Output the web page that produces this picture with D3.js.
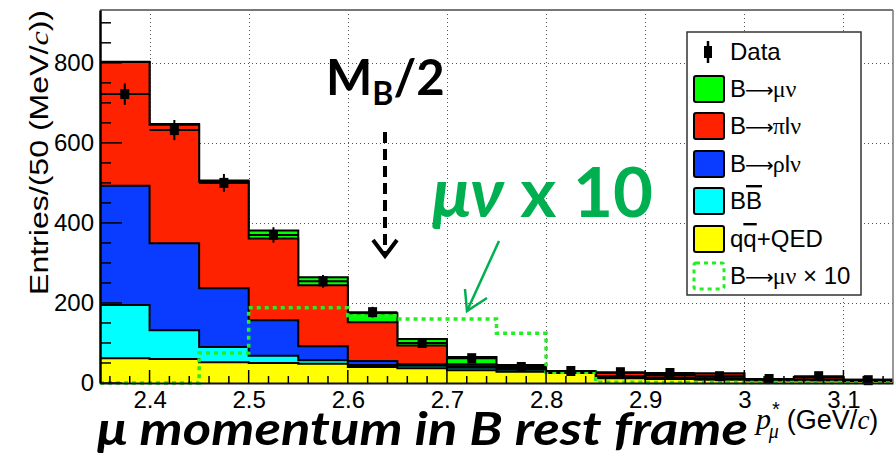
<!DOCTYPE html>
<html>
<head>
<meta charset="utf-8">
<script src="https://cdn.jsdelivr.net/npm/d3@7"></script>
<style>
body { margin: 0; background: #fff; }
svg { display: block; }
</style>
</head>
<body>
<div id="viz"></div>
<script>
// p*_mu histogram, 50 MeV bins, stacked MC + data + signal x 10

var binLow = [2.35, 2.40, 2.45, 2.50, 2.55, 2.60, 2.65, 2.70, 2.75, 2.80, 2.85, 2.90, 2.95, 3.00, 3.05, 3.10];
var binWidth = 0.05;

// stack components, bottom first
var qqQED = [62, 60, 52, 50, 48, 40, 37, 32, 28, 25, 12, 10, 8, 6, 6, 5];
var BBbar = [133, 72, 38, 18, 9, 5, 6, 6, 5, 2, 3, 2, 2, 2, 2, 1];
var rhoLnu = [298, 217, 147, 89, 35, 10, 4, 4, 3, 1, 2, 2, 2, 1, 1, 1];
var piLnu = [309, 296, 266, 204, 152, 97, 47, 5, 2, 1, 8, 6, 12, 1, 6, 1];
var muNu = [1, 2, 3, 20, 20, 22, 16, 18, 7, 1, 0, 0, 0, 0, 0, 0];

var muNuX10 = [0, 0, 75, 188, 188, 168, 160, 160, 124, 27, 2, 1, 1, 1, 1, 1];
var dataCounts = [722, 632, 500, 370, 254, 177, 100, 62, 40, 30, 27, 25, 17, 10, 17, 7];

var xTicks = [2.4, 2.5, 2.6, 2.7, 2.8, 2.9, 3.0, 3.1];
var xTickLabels = ["2.4", "2.5", "2.6", "2.7", "2.8", "2.9", "3", "3.1"];
var yTicks = [0, 200, 400, 600, 800];

var layers = [
    {name: "qq", values: qqQED, color: "#ffff00"},
    {name: "BB", values: BBbar, color: "#00ffff"},
    {name: "rho", values: rhoLnu, color: "#0a3cff"},
    {name: "pi", values: piLnu, color: "#ff2200"},
    {name: "munu", values: muNu, color: "#00ff00"}
];

var W = 896, H = 456;
var frame = {left: 100, right: 893, top: 10, bottom: 383};

var x = d3.scaleLinear().domain([2.35, 3.15]).range([frame.left, frame.right]);
var y = d3.scaleLinear().domain([0, 932]).range([frame.bottom, frame.top]);

var rootFont = "'Liberation Sans', Arial, Helvetica, sans-serif";
var greekFont = "'Liberation Serif', 'Times New Roman', serif";
var noteFont = "Lato, 'Open Sans', sans-serif";

function stepPoints(vals) {
    var pts = vals.map(function(v, i) { return {x: binLow[i], v: v}; });
    pts.push({x: binLow[vals.length - 1] + binWidth, v: vals[vals.length - 1]});
    return pts;
}

// long thin arrow like ROOT's #rightarrow
function arrow() {
    return "<tspan font-family=\"'DejaVu Sans'\" font-size=\"20\" dx=\"-1\">⟶</tspan>";
}
function greek(s, dx) {
    return "<tspan font-family=\"" + greekFont + "\"" + (dx ? " dx=\"" + dx + "\"" : "") + ">" + s + "</tspan>";
}

function main() {
    var svg = d3.select("#viz").append("svg").attr("width", W).attr("height", H);

    // grid
    var grid = svg.append("g").attr("id", "grid")
        .attr("stroke", "#555").attr("stroke-width", 1).attr("stroke-dasharray", "1,3");
    grid.selectAll("line.gx").data(xTicks).enter().append("line")
        .attr("x1", function(d) { return Math.round(x(d)) + 0.5; })
        .attr("x2", function(d) { return Math.round(x(d)) + 0.5; })
        .attr("y1", frame.top).attr("y2", frame.bottom);
    grid.selectAll("line.gy").data(yTicks.slice(1)).enter().append("line")
        .attr("y1", function(d) { return Math.round(y(d)) + 0.5; })
        .attr("y2", function(d) { return Math.round(y(d)) + 0.5; })
        .attr("x1", frame.left).attr("x2", frame.right);

    // cumulative stack, drawn largest first like THStack
    var cum = binLow.map(function() { return 0; });
    layers.forEach(function(l) {
        cum = cum.map(function(c, i) { return c + l.values[i]; });
        l.cum = cum.slice();
    });

    var area = d3.area().curve(d3.curveStepAfter)
        .x(function(d) { return x(d.x); })
        .y0(y(0))
        .y1(function(d) { return y(d.v); });
    var line = d3.line().curve(d3.curveStepAfter)
        .x(function(d) { return x(d.x); })
        .y(function(d) { return y(d.v); });

    var hists = svg.append("g").attr("id", "stack");
    layers.slice().reverse().forEach(function(l) {
        var pts = stepPoints(l.cum);
        hists.append("path").attr("d", area(pts)).attr("fill", l.color);
        hists.append("path").attr("d", line(pts))
            .attr("fill", "none").attr("stroke", "#000").attr("stroke-width", 2);
    });

    // signal x 10
    svg.append("path").attr("d", line(stepPoints(muNuX10)))
        .attr("fill", "none").attr("stroke", "#22ee22")
        .attr("stroke-width", 3.5).attr("stroke-dasharray", "4,4");

    // data points
    var pts = svg.append("g").attr("id", "data");
    dataCounts.forEach(function(n, i) {
        var cx = x(binLow[i] + binWidth / 2), cy = y(n), e = Math.sqrt(n);
        pts.append("line").attr("x1", x(binLow[i])).attr("x2", x(binLow[i] + binWidth))
            .attr("y1", cy).attr("y2", cy).attr("stroke", "#000").attr("stroke-width", 2);
        pts.append("line").attr("x1", cx).attr("x2", cx)
            .attr("y1", y(n + e)).attr("y2", y(Math.max(n - e, 0)))
            .attr("stroke", "#000").attr("stroke-width", 2);
        pts.append("rect").attr("x", cx - 4.5).attr("y", cy - 5).attr("width", 9).attr("height", 10)
            .attr("fill", "#000");
    });

    // frame
    svg.append("line").attr("x1", frame.left).attr("x2", frame.right)
        .attr("y1", frame.top).attr("y2", frame.top).attr("stroke", "#777").attr("stroke-width", 2);
    svg.append("line").attr("x1", frame.right).attr("x2", frame.right)
        .attr("y1", frame.top).attr("y2", frame.bottom).attr("stroke", "#777").attr("stroke-width", 1.5);

    // y axis
    var yAxis = d3.axisLeft(y).tickValues(yTicks).tickSize(0).tickPadding(6);
    var ya = svg.append("g").attr("transform", "translate(" + frame.left + ",0)").call(yAxis);
    ya.select(".domain").attr("stroke", "#000").attr("stroke-width", 2.5);
    ya.selectAll("text").attr("font-family", rootFont).attr("font-size", 24).attr("fill", "#000");
    var yMinor = d3.range(0, 932, 50);
    svg.append("g").selectAll("line").data(yMinor).enter().append("line")
        .attr("x1", frame.left)
        .attr("x2", function(d) { return frame.left + (d % 200 == 0 ? 22 : 11); })
        .attr("y1", function(d) { return y(d); }).attr("y2", function(d) { return y(d); })
        .attr("stroke", "#000").attr("stroke-width", 1.5);

    // x axis
    var xAxis = d3.axisBottom(x).tickValues(xTicks).tickSize(0).tickPadding(8)
        .tickFormat(function(d, i) { return xTickLabels[i]; });
    var xa = svg.append("g").attr("transform", "translate(0," + frame.bottom + ")").call(xAxis);
    xa.select(".domain").attr("stroke", "#112").attr("stroke-width", 2);
    xa.selectAll("text").attr("font-family", rootFont).attr("font-size", 24).attr("fill", "#000");
    var xMinor = d3.range(0, 40).map(function(k) { return 2.36 + 0.02 * k; });
    svg.append("g").selectAll("line").data(xMinor).enter().append("line")
        .attr("x1", function(d) { return x(d); }).attr("x2", function(d) { return x(d); })
        .attr("y1", frame.bottom)
        .attr("y2", function(d) { return frame.bottom - (Math.abs(Math.round(d * 10) - d * 10) < 1e-6 ? 13 : 7); })
        .attr("stroke", "#000").attr("stroke-width", 1.5);

    // axis titles
    svg.append("text")
        .attr("transform", "translate(48,0) rotate(-90)")
        .attr("x", -295).attr("y", 0)
        .attr("font-family", rootFont).attr("font-size", 25)
        .attr("textLength", 285).attr("lengthAdjust", "spacingAndGlyphs")
        .html("Entries/(50 (MeV/<tspan font-family=\"" + greekFont + "\" font-style=\"italic\">c</tspan>))");

    var xt = svg.append("text").attr("x", 756).attr("y", 429)
        .attr("font-family", rootFont).attr("font-size", 27);
    xt.append("tspan").attr("font-family", greekFont).attr("font-style", "italic").attr("font-size", 30).text("p");
    xt.append("tspan").attr("font-size", 20).attr("dx", 1).attr("dy", -13).text("*");
    xt.append("tspan").attr("font-family", greekFont).attr("font-style", "italic").attr("font-size", 20)
        .attr("dx", -11).attr("dy", 22).text("μ");
    xt.append("tspan").attr("dy", -9).attr("dx", 8).text("(GeV/");
    xt.append("tspan").attr("font-family", greekFont).attr("font-style", "italic").text("c");
    xt.append("tspan").text(")");

    // legend
    var lg = svg.append("g").attr("id", "legend");
    lg.append("rect").attr("x", 687).attr("y", 32).attr("width", 174).attr("height", 263)
        .attr("fill", "#fff").attr("stroke", "#333").attr("stroke-width", 1.5);
    var rowY = [52, 89, 126, 164, 201, 239, 276];
    lg.append("line").attr("x1", 708).attr("x2", 708).attr("y1", 41).attr("y2", 63)
        .attr("stroke", "#000").attr("stroke-width", 2.5);
    lg.append("rect").attr("x", 704).attr("y", 46).attr("width", 8).attr("height", 12).attr("fill", "#000");

    var entries = [
        {color: "#00ff00", label: "B" + arrow() + greek("μν", -1)},
        {color: "#ff2200", label: "B" + arrow() + greek("π", -1) + "l" + greek("ν")},
        {color: "#0a3cff", label: "B" + arrow() + greek("ρ", -1) + "l" + greek("ν")},
        {color: "#00ffff", label: "B<tspan text-decoration=\"overline\">B</tspan>"},
        {color: "#ffff00", label: "q<tspan text-decoration=\"overline\">q</tspan>+QED"},
        {color: "none", dashed: true, label: "B" + arrow() + greek("μν", -1) + " × 10"}
    ];
    entries.forEach(function(e, i) {
        var cy = rowY[i + 1];
        var sw = lg.append("rect").attr("x", 694).attr("y", cy - 13).attr("width", 30).attr("height", 26)
            .attr("rx", 2).attr("fill", e.dashed ? "#fff" : e.color);
        if (e.dashed)
            sw.attr("stroke", "#22ee22").attr("stroke-width", 3).attr("stroke-dasharray", "4,4");
        else
            sw.attr("stroke", "#000").attr("stroke-width", 2);
    });
    var labels = ["Data"].concat(entries.map(function(e) { return e.label; }));
    labels.forEach(function(t, i) {
        lg.append("text").attr("x", 730).attr("y", rowY[i] + 8)
            .attr("font-family", rootFont).attr("font-size", 24).html(t);
    });

    // annotations
    var mb = svg.append("text").attr("x", 326).attr("y", 95)
        .attr("font-family", noteFont).attr("font-weight", "bold").attr("font-size", 49);
    mb.append("tspan").text("M");
    mb.append("tspan").attr("font-size", 32).attr("dy", 10).text("B");
    mb.append("tspan").attr("dy", -10).text("/2");

    svg.append("line").attr("x1", 385).attr("x2", 385).attr("y1", 132).attr("y2", 255)
        .attr("stroke", "#000").attr("stroke-width", 4).attr("stroke-dasharray", "11,6");
    svg.append("path").attr("d", "M373,240 L385,256 L397,240")
        .attr("fill", "none").attr("stroke", "#000").attr("stroke-width", 4).attr("stroke-linejoin", "miter");

    var mv = svg.append("text").attr("x", 432).attr("y", 217)
        .attr("font-family", noteFont).attr("font-weight", "bold").attr("font-size", 69).attr("fill", "#00b050");
    mv.append("tspan").attr("font-style", "italic").text("μν");
    mv.append("tspan").text(" x 10");

    svg.append("line").attr("x1", 499).attr("y1", 241).attr("x2", 467).attr("y2", 311)
        .attr("stroke", "#00b050").attr("stroke-width", 2.5);
    svg.append("path").attr("d", "M465,289 L467,311 L487,298")
        .attr("fill", "none").attr("stroke", "#00b050").attr("stroke-width", 2.5);

    svg.append("text").attr("x", 97).attr("y", 445)
        .attr("font-family", noteFont).attr("font-weight", "bold").attr("font-style", "italic")
        .attr("font-size", 45).attr("textLength", 651).attr("lengthAdjust", "spacingAndGlyphs")
        .text("μ momentum in B rest frame");
}

main();
</script>
</body>
</html>
